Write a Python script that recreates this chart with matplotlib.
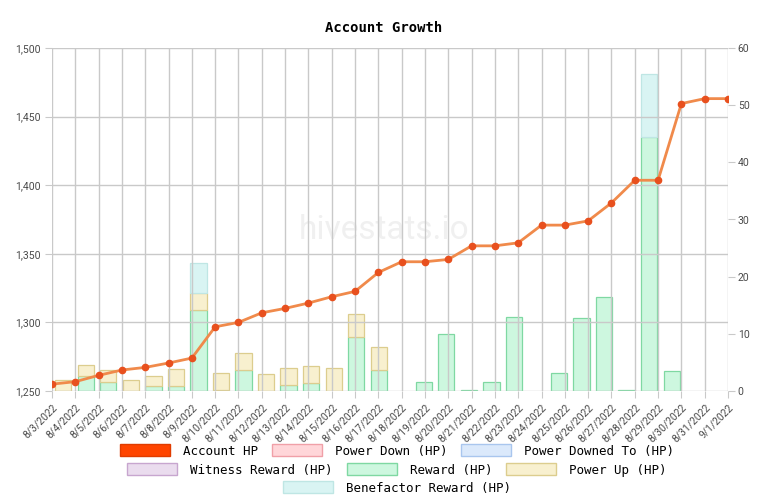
import numpy as np
import matplotlib
matplotlib.use("Agg")
import matplotlib.pyplot as plt
from matplotlib.patches import Patch
from matplotlib.ticker import FuncFormatter

# dates on the x axis
dates = [
    "8/3/2022", "8/4/2022", "8/5/2022", "8/6/2022", "8/7/2022", "8/8/2022",
    "8/9/2022", "8/10/2022", "8/11/2022", "8/12/2022", "8/13/2022", "8/14/2022",
    "8/15/2022", "8/16/2022", "8/17/2022", "8/18/2022", "8/19/2022", "8/20/2022",
    "8/21/2022", "8/22/2022", "8/23/2022", "8/24/2022", "8/25/2022", "8/26/2022",
    "8/27/2022", "8/28/2022", "8/29/2022", "8/30/2022", "8/31/2022", "9/1/2022",
]

# left axis: account HP
account_hp = [
    1255.0, 1256.8, 1261.4, 1265.3, 1267.2, 1270.4, 1274.0, 1296.8, 1300.0, 1307.0,
    1310.2, 1314.1, 1318.7, 1322.6, 1336.4, 1344.2, 1344.2, 1345.9, 1355.8, 1355.8,
    1358.0, 1370.9, 1370.9, 1374.0, 1387.1, 1403.6, 1403.6, 1459.5, 1463.1, 1463.1,
]

# right axis: stacked daily bars (HP)
power_down = [0.0] * 30
power_downed_to = [0.0] * 30
witness_reward = [0.0] * 30
reward = [
    0.0, 2.6, 1.6, 0.0, 0.8, 0.8, 14.1, 0.2, 3.7, 0.0,
    1.0, 1.4, 0.0, 9.4, 3.7, 0.0, 1.6, 10.0, 0.2, 1.6,
    12.9, 0.0, 3.1, 12.8, 16.4, 0.1, 44.5, 3.5, 0.0, 0.0,
]
power_up = [
    2.0, 2.0, 2.0, 2.0, 1.9, 3.0, 3.0, 3.0, 3.0, 3.0,
    3.0, 3.0, 4.0, 4.0, 4.0, 0.0, 0.0, 0.0, 0.0, 0.0,
    0.0, 0.0, 0.0, 0.0, 0.0, 0.0, 0.0, 0.0, 0.0, 0.0,
]
benefactor_reward = [
    0.0, 0.0, 0.0, 0.0, 0.0, 0.0, 5.3, 0.0, 0.0, 0.0,
    0.0, 0.0, 0.0, 0.0, 0.0, 0.0, 0.0, 0.0, 0.0, 0.0,
    0.0, 0.0, 0.0, 0.0, 0.0, 0.0, 11.0, 0.0, 0.0, 0.0,
]

GRID = "#c9c9c9"
TICK_TXT = "#4a4a4a"
MONO = "DejaVu Sans Mono"

fig = plt.figure(figsize=(7.68, 4.98), dpi=100)
pos = [52 / 768, 107 / 498, 676 / 768, 343 / 498]

# bars live on an offset category axis (like chart.js), line on the plain one
axb = fig.add_axes(pos)
ax = fig.add_axes(pos)
axb.set_zorder(0)
ax.set_zorder(1)
ax.patch.set_visible(False)

n = len(dates)
idx = np.arange(n)
bw = 0.72
bottom = np.zeros(n)
series = [
    (power_down, "#ffd6d9", "#f0a0a8"),
    (power_downed_to, "#dbe9fb", "#a9c6ee"),
    (witness_reward, "#eadcee", "#c7a6cf"),
    (reward, "#cdf7df", "#7fd8a2"),
    (power_up, "#f8f0cf", "#dccd8e"),
    (benefactor_reward, "#d9f4f3", "#bfe6e4"),
]
for vals, fc, ec in series:
    v = np.asarray(vals)
    mask = v > 0
    axb.bar(idx[mask], v[mask], bw, bottom=bottom[mask], color=fc,
            edgecolor=ec, linewidth=0.9)
    bottom += v

axb.set_xlim(-0.5, n - 0.5)
axb.set_ylim(0, 60)
axb.set_yticks(range(0, 61, 10))
axb.yaxis.tick_right()
axb.tick_params(axis="y", length=5, color=GRID, labelsize=7.5,
                labelcolor=TICK_TXT, pad=2)
axb.set_xticks([])
for s in axb.spines.values():
    s.set_visible(False)
for lbl in axb.get_yticklabels():
    lbl.set_family("Roboto")

# account HP line
ax.plot(idx, account_hp, color="#f08a4b", linewidth=2, zorder=3)
ax.plot(idx, account_hp, linestyle="none", marker="o", markersize=4.5,
        color="#e8501e", zorder=4)
ax.set_xlim(0, n - 1)
ax.set_ylim(1250, 1500)
ax.set_yticks(range(1250, 1501, 50))
ax.yaxis.set_major_formatter(FuncFormatter(lambda v, p: f"{int(v):,}"))
ax.set_xticks(idx)
ax.set_xticklabels(dates, rotation=45, ha="right", rotation_mode="anchor")
ax.grid(True, color=GRID, linewidth=1)
ax.tick_params(axis="both", length=5, color=GRID, labelsize=7.5,
               labelcolor=TICK_TXT)
ax.tick_params(axis="x", pad=3)
for s in ax.spines.values():
    s.set_visible(False)
for lbl in ax.get_xticklabels() + ax.get_yticklabels():
    lbl.set_family("Roboto")

# watermark
fig.text(384 / 768, 1 - 230 / 498, "hivestats.io", family="Roboto", fontsize=24,
         color="#f0f0f0", ha="center", va="center", zorder=0)

fig.text(384 / 768, 1 - 28 / 498, "Account Growth", family=MONO, fontsize=10,
         fontweight="bold", ha="center", va="center")

# legend, chart.js style: centred rows
rows = [
    [("Account HP", "#ff4500", "#e03c00"),
     ("Power Down (HP)", "#ffd6d9", "#f0a0a8"),
     ("Power Downed To (HP)", "#dbe9fb", "#a9c6ee")],
    [("Witness Reward (HP)", "#eadcee", "#c7a6cf"),
     ("Reward (HP)", "#cdf7df", "#7fd8a2"),
     ("Power Up (HP)", "#f8f0cf", "#dccd8e")],
    [("Benefactor Reward (HP)", "#d9f4f3", "#bfe6e4")],
]
row_y = [451, 470, 488]
for row, y in zip(rows, row_y):
    handles = [Patch(facecolor=fc, edgecolor=ec, linewidth=1, label=lab)
               for lab, fc, ec in row]
    fig.legend(handles=handles, ncol=len(handles), loc="center",
               bbox_to_anchor=(397 / 768, 1 - y / 498), frameon=False,
               prop={"family": MONO, "size": 9}, handlelength=4.0,
               handleheight=1.1, handletextpad=1.05, columnspacing=1.1,
               borderpad=0, borderaxespad=0)

fig.savefig("out.png", dpi=100)
